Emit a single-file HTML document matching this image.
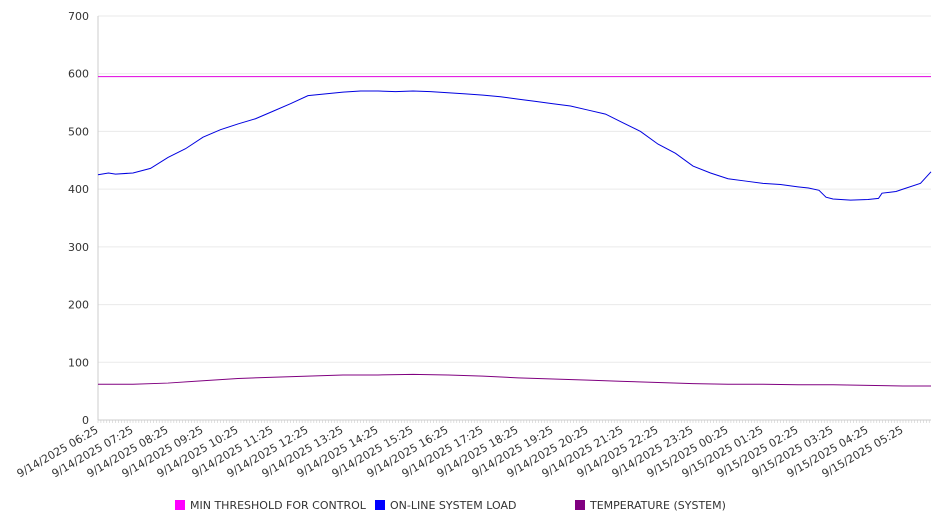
<!DOCTYPE html>
<html><head><meta charset="utf-8"><style>
body{margin:0;background:#fff;font-family:"DejaVu Sans","Liberation Sans",sans-serif;}
svg text{font-family:"DejaVu Sans","Liberation Sans",sans-serif;}
</style></head><body>
<svg id="chart" width="946" height="526" xmlns="http://www.w3.org/2000/svg"></svg>
<script>
const tickLabels=["9/14/2025 06:25","9/14/2025 07:25","9/14/2025 08:25","9/14/2025 09:25","9/14/2025 10:25","9/14/2025 11:25","9/14/2025 12:25","9/14/2025 13:25","9/14/2025 14:25","9/14/2025 15:25","9/14/2025 16:25","9/14/2025 17:25","9/14/2025 18:25","9/14/2025 19:25","9/14/2025 20:25","9/14/2025 21:25","9/14/2025 22:25","9/14/2025 23:25","9/15/2025 00:25","9/15/2025 01:25","9/15/2025 02:25","9/15/2025 03:25","9/15/2025 04:25","9/15/2025 05:25"];
const yTicks=[0,100,200,300,400,500,600,700];
const loadHours=[0,0.3,0.5,1,1.5,2,2.5,3,3.5,4,4.5,5,5.5,6,6.5,7,7.5,8,8.5,9,9.5,10,10.5,11,11.5,12,12.5,13,13.5,14,14.5,15,15.5,16,16.5,17,17.5,18,18.5,19,19.5,20,20.3,20.6,20.8,21,21.5,22,22.3,22.4,22.8,23,23.5,23.8];
const loadValues=[425,428,426,428,436,455,470,490,503,513,522,535,548,562,565,568,570,570,569,570,569,567,565,563,560,556,552,548,544,537,530,515,500,478,462,440,428,418,414,410,408,404,402,398,386,383,381,382,384,393,396,400,410,430];
const tempHours=[0,1,2,3,4,5,6,7,8,9,10,11,12,13,14,15,16,17,18,19,20,21,22,23,23.8];
const tempValues=[62,62,64,68,72,74,76,78,78,79,78,76,73,71,69,67,65,63,62,62,61,61,60,59,59];
const threshold=595;

const svg=document.getElementById('chart');
const NS='http://www.w3.org/2000/svg';
const X0=98,X1=931,Y0=420,Y1=16,HMAX=23.8;
const x=h=>X0+(h/HMAX)*(X1-X0);
const y=v=>Y0-(v/700)*(Y0-Y1);
function mk(tag,attrs,parent){const e=document.createElementNS(NS,tag);for(const k in attrs)e.setAttribute(k,attrs[k]);(parent||svg).appendChild(e);return e;}

yTicks.forEach(v=>{
  const g=mk('line',{x1:X0,x2:X1,y1:y(v),y2:y(v),stroke:v===0?'#ccc':'#eaeaea','stroke-width':1});
  
  
  const t=mk('text',{x:89,y:y(v)+4,'text-anchor':'end','font-size':11,fill:'#333'});
  t.textContent=v;
  
  
});
const ax=mk('line',{x1:X0,x2:X0,y1:Y1,y2:Y0,stroke:'#ccc'});


for(let h=0;h<=HMAX;h+=1/12){mk('line',{x1:x(h),x2:x(h),y1:Y0,y2:Y0+3,stroke:'#ccc','stroke-width':0.6});}
tickLabels.forEach((lab,i)=>{
  const t=mk('text',{x:0,y:0,'text-anchor':'end','font-size':11,fill:'#333',transform:`translate(${x(i)+1},${Y0+12}) rotate(-30)`});
  t.textContent=lab;
  
  
});
const th=mk('line',{x1:X0,x2:X1,y1:y(threshold),y2:y(threshold),stroke:'#e000e0','stroke-width':1});


function poly(hs,vs,color,name){
  const p=mk('polyline',{points:hs.map((h,i)=>x(h)+','+y(vs[i])).join(' '),fill:'none',stroke:color,'stroke-width':1});
  
  
}
poly(loadHours,loadValues,'#0000e0','load-line');
poly(tempHours,tempValues,'#800080','temperature-line');

const legend=[['MIN THRESHOLD FOR CONTROL','#ff00ff',175],['ON-LINE SYSTEM LOAD','#0000ff',375],['TEMPERATURE (SYSTEM)','#800080',575]];
legend.forEach(([lab,c,lx])=>{
  const r=mk('rect',{x:lx,y:500,width:10,height:10,fill:c});
  
  
  const t=mk('text',{x:lx+15,y:509,'font-size':11,fill:'#333'});
  t.textContent=lab;
  
  
});
</script>
</body></html>
